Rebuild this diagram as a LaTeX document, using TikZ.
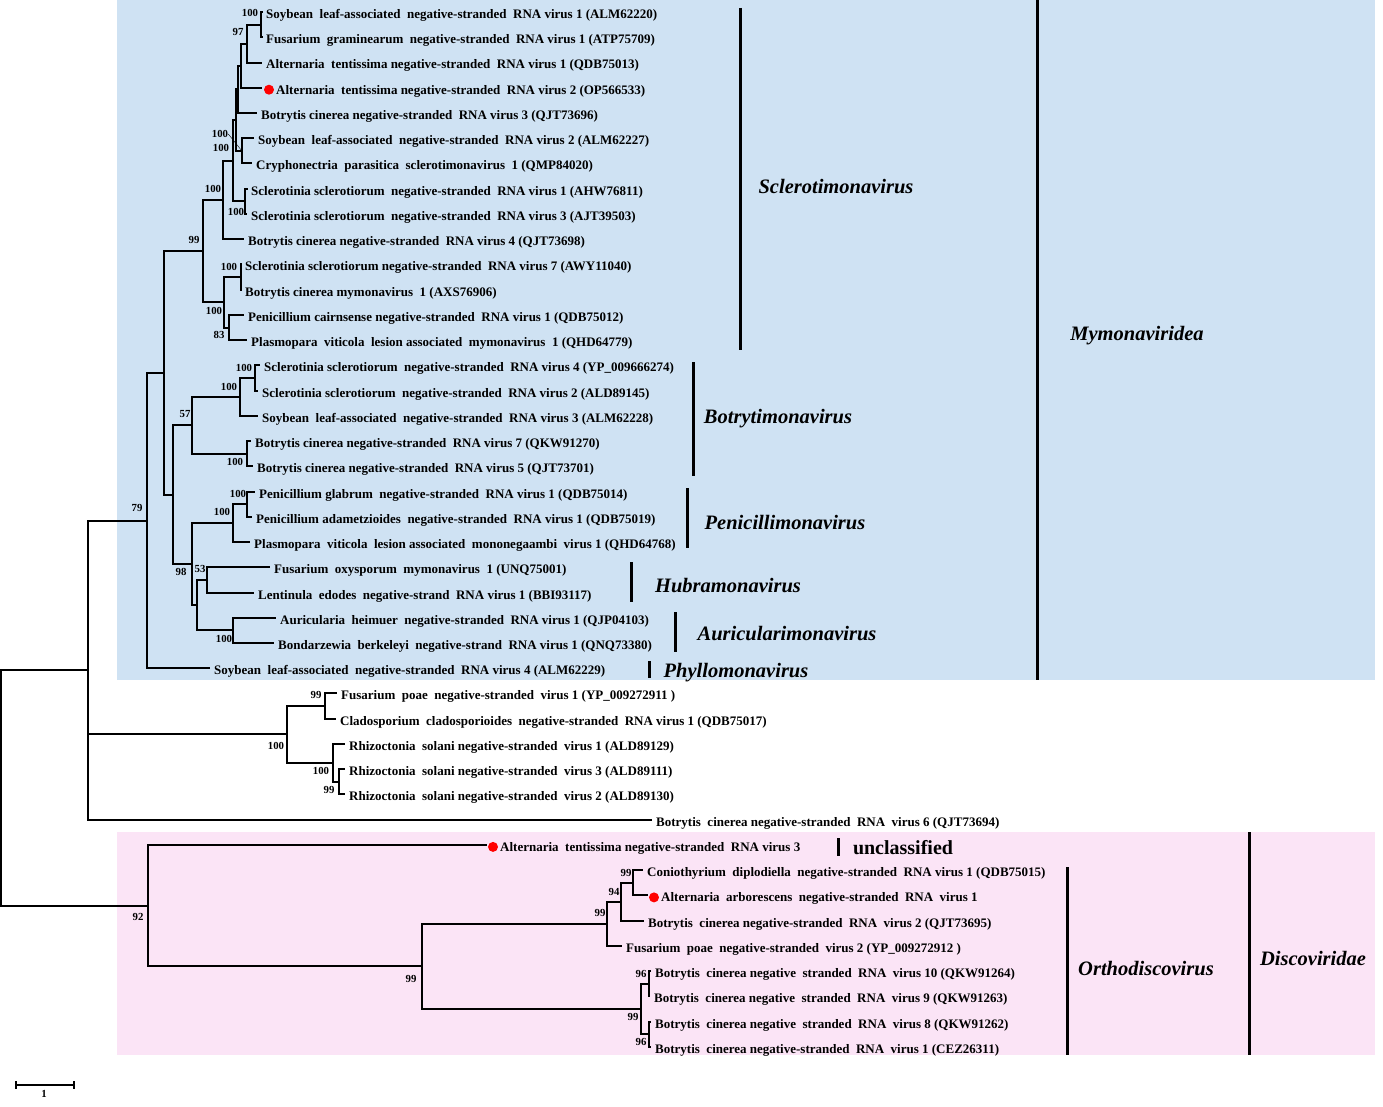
\documentclass[tikz,border=0pt]{standalone}
\usepackage{fontspec}
\setmainfont{Liberation Serif}
\definecolor{mblue}{RGB}{207,226,243}
\definecolor{mpink}{RGB}{251,228,246}
\begin{document}
\begin{tikzpicture}[x=1pt,y=-1pt,
  br/.style={line width=2pt},
  leaf/.style={anchor=base west, inner sep=0pt, font=\fontsize{13}{13}\selectfont\bfseries},
  boot/.style={inner sep=0pt, font=\fontsize{10.8}{10.8}\selectfont\bfseries},
  clade/.style={inner sep=0pt, yshift=-2.5pt, font=\fontsize{20.5}{20.5}\selectfont\bfseries\itshape},
  uncl/.style={inner sep=0pt, yshift=-1pt, font=\fontsize{20}{20}\selectfont\bfseries},
  bar/.style={line width=3pt},
  dot/.style={circle, fill=red, inner sep=0pt, minimum size=10pt}]
\useasboundingbox (0,0) rectangle (1383,1107);
% backgrounds
\fill[mblue] (117,0) rectangle (1375,680);
\fill[mpink] (117,832) rectangle (1375,1055);

% leaf tips
\coordinate (l1) at (263,12);
\coordinate (l2) at (263,37);
\coordinate (l3) at (262,63);
\coordinate (l4) at (262,88);
\coordinate (l5) at (257,113);
\coordinate (l6) at (254,138);
\coordinate (l7) at (252,163);
\coordinate (l8) at (248,189);
\coordinate (l9) at (247,214);
\coordinate (l10) at (244,239);
\coordinate (l11) at (242,264);
\coordinate (l12) at (242,290);
\coordinate (l13) at (244,315);
\coordinate (l14) at (247,340);
\coordinate (l15) at (260,365);
\coordinate (l16) at (258,391);
\coordinate (l17) at (258,416);
\coordinate (l18) at (251,441);
\coordinate (l19) at (253,466);
\coordinate (l20) at (255,492);
\coordinate (l21) at (252,517);
\coordinate (l22) at (250,542);
\coordinate (l23) at (270,567);
\coordinate (l24) at (254,593);
\coordinate (l25) at (276,618);
\coordinate (l26) at (274,643);
\coordinate (l27) at (210,668);
\coordinate (l28) at (337,693);
\coordinate (l29) at (336,719);
\coordinate (l30) at (345,744);
\coordinate (l31) at (345,769);
\coordinate (l32) at (345,794);
\coordinate (l33) at (652,820);
\coordinate (l34) at (487,845);
\coordinate (l35) at (643,870);
\coordinate (l36) at (648,895);
\coordinate (l37) at (644,921);
\coordinate (l38) at (622,946);
\coordinate (l39) at (651,971);
\coordinate (l40) at (650,996);
\coordinate (l41) at (651,1022);
\coordinate (l42) at (651,1047);

% internal nodes
\coordinate (a1) at (261,25);
\coordinate (a2) at (247,44);
\coordinate (a3) at (241,66);
\coordinate (a4) at (238,89);
\coordinate (a5) at (242,151);
\coordinate (a6) at (236,120);
\coordinate (a7) at (245,201);
\coordinate (a8) at (233,161);
\coordinate (a9) at (223,200);
\coordinate (a12) at (241,277);
\coordinate (a13) at (229,328);
\coordinate (a11) at (224,302);
\coordinate (a10) at (203,251);
\coordinate (c3) at (255,378);
\coordinate (c2) at (240,397);
\coordinate (c4) at (247,454);
\coordinate (c1) at (192,425);
\coordinate (e2) at (247,504);
\coordinate (e1) at (233,523);
\coordinate (f2) at (207,580);
\coordinate (f3) at (233,630);
\coordinate (f1) at (197,605);
\coordinate (d1) at (192,564);
\coordinate (bb) at (173,495);
\coordinate (b1) at (164,373);
\coordinate (b0) at (147,521);
\coordinate (h2) at (325,706);
\coordinate (h4) at (339,782);
\coordinate (h3) at (333,763);
\coordinate (h1) at (287,734);
\coordinate (g0) at (88,670);
\coordinate (k2) at (633,883);
\coordinate (k1) at (621,902);
\coordinate (j1) at (607,924);
\coordinate (j3) at (649,984);
\coordinate (j4) at (649,1034);
\coordinate (j2) at (641,1009);
\coordinate (i1) at (422,966);
\coordinate (i0) at (148,906);
\coordinate (root) at (1,788);

% branches
\begin{scope}[br]
\draw (a1) |- (l1); \draw (a1) |- (l2);
\draw (a2) |- (a1); \draw (a2) |- (l3);
\draw (a3) |- (a2); \draw (a3) |- (l4);
\draw (a4) |- (a3); \draw (a4) |- (l5);
\draw (a5) |- (l6); \draw (a5) |- (l7);
\draw (a6) |- (a4); \draw (a6) |- (a5);
\draw (a7) |- (l8); \draw (a7) |- (l9);
\draw (a8) |- (a6); \draw (a8) |- (a7);
\draw (a9) |- (a8); \draw (a9) |- (l10);
\draw (a12) |- (l11); \draw (a12) |- (l12);
\draw (a13) |- (l13); \draw (a13) |- (l14);
\draw (a11) |- (a12); \draw (a11) |- (a13);
\draw (a10) |- (a9); \draw (a10) |- (a11);
\draw (c3) |- (l15); \draw (c3) |- (l16);
\draw (c2) |- (c3); \draw (c2) |- (l17);
\draw (c4) |- (l18); \draw (c4) |- (l19);
\draw (c1) |- (c2); \draw (c1) |- (c4);
\draw (e2) |- (l20); \draw (e2) |- (l21);
\draw (e1) |- (e2); \draw (e1) |- (l22);
\draw (f2) |- (l23); \draw (f2) |- (l24);
\draw (f3) |- (l25); \draw (f3) |- (l26);
\draw (f1) |- (f2); \draw (f1) |- (f3);
\draw (d1) |- (e1); \draw (d1) |- (f1);
\draw (bb) |- (c1); \draw (bb) |- (d1);
\draw (b1) |- (a10); \draw (b1) |- (bb);
\draw (b0) |- (b1); \draw (b0) |- (l27);
\draw (h2) |- (l28); \draw (h2) |- (l29);
\draw (h4) |- (l31); \draw (h4) |- (l32);
\draw (h3) |- (l30); \draw (h3) |- (h4);
\draw (h1) |- (h2); \draw (h1) |- (h3);
\draw (g0) |- (b0); \draw (g0) |- (h1); \draw (g0) |- (l33);
\draw (k2) |- (l35); \draw (k2) |- (l36);
\draw (k1) |- (k2); \draw (k1) |- (l37);
\draw (j1) |- (k1); \draw (j1) |- (l38);
\draw (j3) |- (l39); \draw (j3) |- (l40);
\draw (j4) |- (l41); \draw (j4) |- (l42);
\draw (j2) |- (j3); \draw (j2) |- (j4);
\draw (i1) |- (j1); \draw (i1) |- (j2);
\draw (i0) |- (l34); \draw (i0) |- (i1);
\draw (root) |- (g0); \draw (root) |- (i0);
\end{scope}

% leaf labels
\node[leaf] (t1) at (266,18.5) {Soybean\ \ leaf-associated\ \ negative-stranded\ \ RNA virus 1 (ALM62220)};
\node[leaf] (t2) at (266,43.7) {Fusarium\ \ graminearum\ \ negative-stranded\ \ RNA virus 1 (ATP75709)};
\node[leaf] (t3) at (266,69) {Alternaria\ \ tentissima negative-stranded\ \ RNA virus 1 (QDB75013)};
\node[dot] (d4) at (269,89.7) {};
\node[leaf] (t4) at (276,94.2) {Alternaria\ \ tentissima negative-stranded\ \ RNA virus 2 (OP566533)};
\node[leaf] (t5) at (261,119.5) {Botrytis cinerea negative-stranded\ \ RNA virus 3 (QJT73696)};
\node[leaf] (t6) at (258,144.7) {Soybean\ \ leaf-associated\ \ negative-stranded\ \ RNA virus 2 (ALM62227)};
\node[leaf] (t7) at (256,169.9) {Cryphonectria\ \ parasitica\ \ sclerotimonavirus\ \ 1 (QMP84020)};
\node[leaf] (t8) at (251,195.2) {Sclerotinia sclerotiorum\ \ negative-stranded\ \ RNA virus 1 (AHW76811)};
\node[leaf] (t9) at (251,220.4) {Sclerotinia sclerotiorum\ \ negative-stranded\ \ RNA virus 3 (AJT39503)};
\node[leaf] (t10) at (248,245.7) {Botrytis cinerea negative-stranded\ \ RNA virus 4 (QJT73698)};
\node[leaf] (t11) at (245,270.9) {Sclerotinia sclerotiorum negative-stranded\ \ RNA virus 7 (AWY11040)};
\node[leaf] (t12) at (245,296.1) {Botrytis cinerea mymonavirus\ \ 1 (AXS76906)};
\node[leaf] (t13) at (248,321.4) {Penicillium cairnsense negative-stranded\ \ RNA virus 1 (QDB75012)};
\node[leaf] (t14) at (251,346.6) {Plasmopara\ \ viticola\ \ lesion associated\ \ mymonavirus\ \ 1 (QHD64779)};
\node[leaf] (t15) at (264,371.9) {Sclerotinia sclerotiorum\ \ negative-stranded\ \ RNA virus 4 (YP\_009666274)};
\node[leaf] (t16) at (262,397.1) {Sclerotinia sclerotiorum\ \ negative-stranded\ \ RNA virus 2 (ALD89145)};
\node[leaf] (t17) at (262,422.3) {Soybean\ \ leaf-associated\ \ negative-stranded\ \ RNA virus 3 (ALM62228)};
\node[leaf] (t18) at (255,447.6) {Botrytis cinerea negative-stranded\ \ RNA virus 7 (QKW91270)};
\node[leaf] (t19) at (257,472.8) {Botrytis cinerea negative-stranded\ \ RNA virus 5 (QJT73701)};
\node[leaf] (t20) at (259,498.1) {Penicillium glabrum\ \ negative-stranded\ \ RNA virus 1 (QDB75014)};
\node[leaf] (t21) at (256,523.3) {Penicillium adametzioides\ \ negative-stranded\ \ RNA virus 1 (QDB75019)};
\node[leaf] (t22) at (254,548.5) {Plasmopara\ \ viticola\ \ lesion associated\ \ mononegaambi\ \ virus 1 (QHD64768)};
\node[leaf] (t23) at (274,573.8) {Fusarium\ \ oxysporum\ \ mymonavirus\ \ 1 (UNQ75001)};
\node[leaf] (t24) at (258,599) {Lentinula\ \ edodes\ \ negative-strand\ \ RNA virus 1 (BBI93117)};
\node[leaf] (t25) at (280,624.3) {Auricularia\ \ heimuer\ \ negative-stranded\ \ RNA virus 1 (QJP04103)};
\node[leaf] (t26) at (278,649.5) {Bondarzewia\ \ berkeleyi\ \ negative-strand\ \ RNA virus 1 (QNQ73380)};
\node[leaf] (t27) at (214,674.7) {Soybean\ \ leaf-associated\ \ negative-stranded\ \ RNA virus 4 (ALM62229)};
\node[leaf] (t28) at (341,699.9) {Fusarium\ \ poae\ \ negative-stranded\ \ virus 1 (YP\_009272911 )};
\node[leaf] (t29) at (340,725.2) {Cladosporium\ \ cladosporioides\ \ negative-stranded\ \ RNA virus 1 (QDB75017)};
\node[leaf] (t30) at (349,750.4) {Rhizoctonia\ \ solani negative-stranded\ \ virus 1 (ALD89129)};
\node[leaf] (t31) at (349,775.7) {Rhizoctonia\ \ solani negative-stranded\ \ virus 3 (ALD89111)};
\node[leaf] (t32) at (349,800.9) {Rhizoctonia\ \ solani negative-stranded\ \ virus 2 (ALD89130)};
\node[leaf] (t33) at (656,826.1) {Botrytis\ \ cinerea negative-stranded\ \ RNA\ \ virus 6 (QJT73694)};
\node[dot] (d34) at (493,846.9) {};
\node[leaf] (t34) at (500,851.4) {Alternaria\ \ tentissima negative-stranded\ \ RNA virus 3};
\node[leaf] (t35) at (647,876.6) {Coniothyrium\ \ diplodiella\ \ negative-stranded\ \ RNA virus 1 (QDB75015)};
\node[dot] (d36) at (654,897.4) {};
\node[leaf] (t36) at (661,901.9) {Alternaria\ \ arborescens\ \ negative-stranded\ \ RNA\ \ virus 1};
\node[leaf] (t37) at (648,927.1) {Botrytis\ \ cinerea negative-stranded\ \ RNA\ \ virus 2 (QJT73695)};
\node[leaf] (t38) at (626,952.3) {Fusarium\ \ poae\ \ negative-stranded\ \ virus 2 (YP\_009272912 )};
\node[leaf] (t39) at (655,977.6) {Botrytis\ \ cinerea negative\ \ stranded\ \ RNA\ \ virus 10 (QKW91264)};
\node[leaf] (t40) at (654,1002.8) {Botrytis\ \ cinerea negative\ \ stranded\ \ RNA\ \ virus 9 (QKW91263)};
\node[leaf] (t41) at (655,1028.1) {Botrytis\ \ cinerea negative\ \ stranded\ \ RNA\ \ virus 8 (QKW91262)};
\node[leaf] (t42) at (655,1053.3) {Botrytis\ \ cinerea negative-stranded\ \ RNA\ \ virus 1 (CEZ26311)};

% bootstrap values
\node[boot] (s1) at (250,13) {100};
\node[boot] (s2) at (238,32) {97};
\node[boot] (s3) at (220,134) {100};
\node[boot] (s4) at (221,148) {100};
\draw[line width=0.4pt] (s3.east) -- (a5);
\node[boot] (s5) at (213,189) {100};
\node[boot] (s6) at (236,212) {100};
\node[boot] (s7) at (194,240) {99};
\node[boot] (s8) at (229,267) {100};
\node[boot] (s9) at (214,311) {100};
\node[boot] (s10) at (219,335) {83};
\node[boot] (s11) at (244,368) {100};
\node[boot] (s12) at (229,387) {100};
\node[boot] (s13) at (185,414) {57};
\node[boot] (s14) at (235,462) {100};
\node[boot] (s15) at (238,494) {100};
\node[boot] (s16) at (222,512) {100};
\node[boot] (s17) at (137,508) {79};
\node[boot] (s18) at (181,572) {98};
\node[boot] (s19) at (200,569) {53};
\node[boot] (s20) at (224,639) {100};
\node[boot] (s21) at (316,695) {99};
\node[boot] (s22) at (276,746) {100};
\node[boot] (s23) at (321,771) {100};
\node[boot] (s24) at (329,790) {99};
\node[boot] (s25) at (138,917) {92};
\node[boot] (s26) at (411,979) {99};
\node[boot] (s27) at (626,873) {99};
\node[boot] (s28) at (614,892) {94};
\node[boot] (s29) at (600,913) {99};
\node[boot] (s30) at (641,974) {96};
\node[boot] (s31) at (633,1017) {99};
\node[boot] (s32) at (641,1042) {96};

% clade bars and labels
\coordinate (sc1) at (740.5,8); \coordinate (sc2) at (740.5,350);
\draw[bar] (sc1) -- (sc2);
\node[clade] (sc) at (836,184) {Sclerotimonavirus};
\coordinate (bo1) at (693.5,362); \coordinate (bo2) at (693.5,476);
\draw[bar] (bo1) -- (bo2);
\node[clade] (bo) at (778,416) {Botrytimonavirus};
\coordinate (pe1) at (687.5,488); \coordinate (pe2) at (687.5,548);
\draw[bar] (pe1) -- (pe2);
\node[clade] (pe) at (785,520) {Penicillimonavirus};
\coordinate (hu1) at (631.5,562); \coordinate (hu2) at (631.5,602);
\draw[bar] (hu1) -- (hu2);
\node[clade] (hu) at (728,583) {Hubramonavirus};
\coordinate (au1) at (675.5,612); \coordinate (au2) at (675.5,652);
\draw[bar] (au1) -- (au2);
\node[clade] (au) at (787,631) {Auricularimonavirus};
\coordinate (ph1) at (649.5,661); \coordinate (ph2) at (649.5,678);
\draw[bar] (ph1) -- (ph2);
\node[clade] (ph) at (736,670) {Phyllomonavirus};
\coordinate (my1) at (1037.5,0); \coordinate (my2) at (1037.5,680);
\draw[bar] (my1) -- (my2);
\node[clade] (my) at (1137,333) {Mymonaviridea};
\coordinate (un1) at (838.5,838); \coordinate (un2) at (838.5,856);
\draw[bar] (un1) -- (un2);
\node[uncl] (un) at (903,847) {unclassified};
\coordinate (or1) at (1067.5,867); \coordinate (or2) at (1067.5,1055);
\draw[bar] (or1) -- (or2);
\node[clade] (or) at (1146,966) {Orthodiscovirus};
\coordinate (di1) at (1249.5,832); \coordinate (di2) at (1249.5,1055);
\draw[bar] (di1) -- (di2);
\node[clade] (di) at (1313,956) {Discoviridae};

% scale bar
\coordinate (sb1) at (16,1085); \coordinate (sb2) at (74,1085);
\draw[br] (sb1) -- (sb2);
\draw[br] (16,1081) -- (16,1089);
\draw[br] (74,1081) -- (74,1089);
\node[boot] (sbl) at (44,1094) {1};
\end{tikzpicture}
\end{document}
